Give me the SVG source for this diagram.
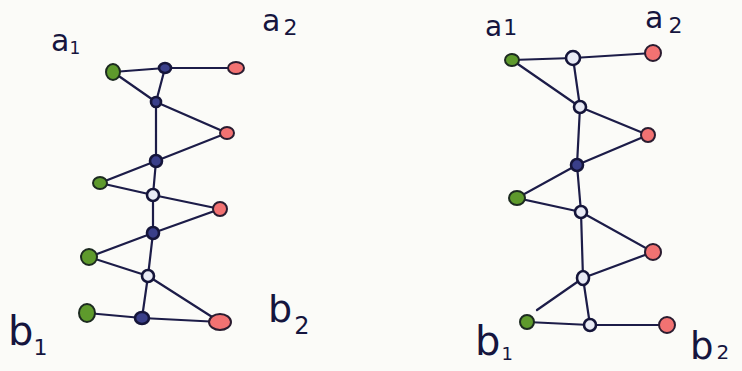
<svg xmlns="http://www.w3.org/2000/svg" width="742" height="371" viewBox="0 0 742 371">
<style>
.e{stroke:#1c1c48;stroke-width:2.2;fill:none;stroke-linecap:round}
.g{fill:#5e9a2c;stroke:#1c2a20;stroke-width:2}
.r{fill:#f27272;stroke:#2a1c30;stroke-width:2}
.b{fill:#3a3f8a;stroke:#15153a;stroke-width:2.6}
.bo{fill:#e8eaf5;stroke:#15153a;stroke-width:2.6}
.t{font-family:"DejaVu Sans",sans-serif;fill:#15153e}
</style>
<rect width="742" height="371" fill="#fbfbf8"/>
<g id="connectors">
<path class="e" d="M113,72L165,68L236,68M113,72L156,102M165,68L156,102M156,102L227,133L156,161M156,102L156,161M156,161L100,183L153,195M156,161L153,195M153,195L220,209L153,233M153,195L153,233M153,233L89,257L148,276M153,233L148,276M148,276L220,322M148,276L142,318M87,313L142,318L220,322"/>
<path class="e" d="M512,60L573,58L653,53M512,60L580,107M573,58L580,107M580,107L648,135L577,165M580,107L577,165M577,165L517,198L581,212M577,165L581,212M581,212L653,252L583,278M581,212L583,278M583,278L537,310M583,278L590,325M527,322L590,325L667,325"/>
</g>
<g id="left-nodes">
<ellipse id="L_g1" class="g" cx="113" cy="72" rx="7" ry="8"/>
<ellipse id="L_b1" class="b" cx="165" cy="68" rx="6" ry="5"/>
<ellipse id="L_r1" class="r" cx="236" cy="68" rx="8" ry="6"/>
<ellipse id="L_b2" class="b" cx="156" cy="102" rx="5" ry="5"/>
<ellipse id="L_r2" class="r" cx="227" cy="133" rx="7" ry="6"/>
<ellipse id="L_b3" class="b" cx="156" cy="161" rx="6" ry="6"/>
<ellipse id="L_g2" class="g" cx="100" cy="183" rx="7" ry="6"/>
<ellipse id="L_b4" class="bo" cx="153" cy="195" rx="6" ry="6"/>
<ellipse id="L_r3" class="r" cx="220" cy="209" rx="7" ry="7"/>
<ellipse id="L_b5" class="b" cx="153" cy="233" rx="6" ry="6"/>
<ellipse id="L_g3" class="g" cx="89" cy="257" rx="8" ry="8"/>
<ellipse id="L_b6" class="bo" cx="148" cy="276" rx="6" ry="6"/>
<ellipse id="L_g4" class="g" cx="87" cy="313" rx="8" ry="9"/>
<ellipse id="L_b7" class="b" cx="142" cy="318" rx="7" ry="6"/>
<ellipse id="L_r4" class="r" cx="220" cy="322" rx="11" ry="8"/>
</g>
<g id="right-nodes">
<ellipse id="R_g1" class="g" cx="512" cy="60" rx="7" ry="6"/>
<ellipse id="R_b1" class="bo" cx="573" cy="58" rx="7" ry="7"/>
<ellipse id="R_r1" class="r" cx="653" cy="53" rx="8" ry="8"/>
<ellipse id="R_b2" class="bo" cx="580" cy="107" rx="6" ry="6"/>
<ellipse id="R_r2" class="r" cx="648" cy="135" rx="7" ry="7"/>
<ellipse id="R_b3" class="b" cx="577" cy="165" rx="6" ry="6"/>
<ellipse id="R_g2" class="g" cx="517" cy="198" rx="8" ry="7"/>
<ellipse id="R_b4" class="bo" cx="581" cy="212" rx="6" ry="6"/>
<ellipse id="R_r3" class="r" cx="653" cy="252" rx="8" ry="8"/>
<ellipse id="R_b5" class="bo" cx="583" cy="278" rx="6" ry="7"/>
<ellipse id="R_g3" class="g" cx="527" cy="322" rx="7" ry="7"/>
<ellipse id="R_b6" class="bo" cx="590" cy="325" rx="6" ry="6"/>
<ellipse id="R_r4" class="r" cx="667" cy="325" rx="8" ry="8"/>
</g>
<g id="labels">
<text class="t" x="51" y="51" font-size="30">a<tspan font-size="17" dy="3">1</tspan></text>
<text class="t" x="262" y="31" font-size="30">a<tspan font-size="22" dx="3" dy="4">2</tspan></text>
<text class="t" x="8" y="345" font-size="40">b<tspan font-size="22" dy="10">1</tspan></text>
<text class="t" x="268" y="322" font-size="38">b<tspan font-size="24" dx="2" dy="12">2</tspan></text>
<text class="t" x="485" y="36" font-size="28">a<tspan font-size="22" dx="1" dy="-1">1</tspan></text>
<text class="t" x="645" y="28" font-size="30">a<tspan font-size="22" dx="5" dy="5">2</tspan></text>
<text class="t" x="475" y="355" font-size="40">b<tspan font-size="18" dx="1" dy="5">1</tspan></text>
<text class="t" x="690" y="359" font-size="37">b<tspan font-size="20" dx="3">2</tspan></text>
</g>
</svg>
